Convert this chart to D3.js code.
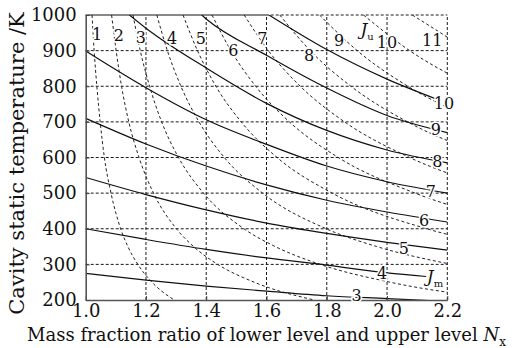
<!DOCTYPE html>
<html>
<head>
<meta charset="utf-8">
<script src="https://cdn.jsdelivr.net/npm/d3@7"></script>
<style>
  body { margin: 0; background: #fff; }
  text { font-family: "DejaVu Serif", serif; fill: #111; }
</style>
</head>
<body>
<svg id="chart" width="519" height="348"></svg>
<script>
const xTicks = [1.0, 1.2, 1.4, 1.6, 1.8, 2.0, 2.2];
const yTicks = [200, 300, 400, 500, 600, 700, 800, 900, 1000];

// Ju (dashed): Nx read at these temperatures
const juTemps = [1000, 900, 800, 700, 600, 500, 400, 350, 300, 250, 200];
const ju1 = [1.021, 1.028, 1.037, 1.048, 1.062, 1.084, 1.116, 1.140, 1.173, 1.220, 1.294];
const ju2 = [1.086, 1.101, 1.119, 1.143, 1.177, 1.225, 1.301, 1.358, 1.438, 1.559, 1.758];
const ju3 = [1.157, 1.181, 1.212, 1.252, 1.308, 1.391, 1.525, 1.629, 1.778, 2.010, 2.417];
const ju4 = [1.236, 1.271, 1.316, 1.376, 1.460, 1.587, 1.798, 1.966, 2.214];
const ju5 = [1.323, 1.371, 1.432, 1.516, 1.635, 1.818, 2.132, 2.388];
const ju6 = [1.419, 1.482, 1.564, 1.676, 1.838, 2.093, 2.541];
const ju7 = [1.526, 1.606, 1.712, 1.859, 2.075, 2.419];
const ju8 = [1.644, 1.745, 1.880, 2.068, 2.350];
const ju9 = [1.776, 1.901, 2.069, 2.308];
const ju10 = [1.922, 2.075, 2.284];
const ju11 = [2.084, 2.271];

// Jm (solid): [Nx, T]
const jm3 = [[1.0, 275], [1.2, 256], [1.4, 239], [1.6, 225], [1.8, 212], [2.0, 204], [2.2, 196]];
const jm4 = [[1.0, 400], [1.2, 370], [1.4, 342], [1.6, 318], [1.8, 298], [2.0, 276], [2.13, 266]];
const jm5 = [[1.0, 544], [1.2, 496], [1.4, 453], [1.6, 416], [1.8, 387], [2.0, 362], [2.2, 340]];
const jm6 = [[1.0, 710], [1.2, 638], [1.4, 576], [1.6, 523], [1.8, 480], [2.0, 447], [2.2, 419]];
const jm7 = [[1.0, 899], [1.2, 796], [1.4, 706], [1.6, 637], [1.8, 576], [2.0, 532], [2.2, 500]];
const jm8 = [[1.145, 1000], [1.2, 963], [1.4, 851], [1.6, 752], [1.8, 676], [2.0, 621], [2.2, 585]];
const jm9 = [[1.385, 1000], [1.4, 989], [1.6, 887], [1.8, 795], [2.0, 718], [2.2, 670]];
const jm10 = [[1.608, 1000], [1.8, 903], [2.0, 820], [2.17, 762]];

const juLabels = [["1", 1.038, 947], ["2", 1.110, 943], ["3", 1.183, 938], ["4", 1.287, 934],
  ["5", 1.382, 934], ["6", 1.490, 901], ["7", 1.586, 934], ["8", 1.741, 887],
  ["9", 1.841, 929], ["10", 2.000, 924], ["11", 2.150, 929]];
const jmLabels = [["10", 2.189, 752], ["9", 2.162, 679], ["8", 2.167, 589], ["7", 2.145, 504],
  ["6", 2.123, 425], ["5", 2.056, 346], ["4", 1.984, 276], ["3", 1.899, 212]];

const svg = d3.select("#chart");
const x = d3.scaleLinear().domain([1.0, 2.2]).range([85.7, 447.3]);
const y = d3.scaleLinear().domain([200, 1000]).range([300, 15]);

svg.append("clipPath").attr("id", "plot")
  .append("rect").attr("x", x(1.0)).attr("y", y(1000))
  .attr("width", x(2.2) - x(1.0)).attr("height", y(200) - y(1000));

// grid
const grid = svg.append("g").attr("stroke", "#1a1a1a").attr("stroke-width", 1).attr("stroke-dasharray", "3,2");
grid.selectAll(".vx").data(xTicks.slice(1)).join("line")
  .attr("x1", d => x(d)).attr("x2", d => x(d)).attr("y1", y(200)).attr("y2", y(1000));
grid.selectAll(".hy").data(yTicks.slice(1)).join("line")
  .attr("x1", x(1.0)).attr("x2", x(2.2)).attr("y1", d => y(d)).attr("y2", d => y(d));
svg.append("line").attr("x1", x(1.0)).attr("x2", x(1.608)).attr("y1", y(1000)).attr("y2", y(1000))
  .attr("stroke", "#888").attr("stroke-width", 2);

const line = d3.line().x(d => x(d[0])).y(d => y(d[1])).curve(d3.curveMonotoneX);
const curves = svg.append("g").attr("clip-path", "url(#plot)").attr("fill", "none");

const juSeries = [ju1, ju2, ju3, ju4, ju5, ju6, ju7, ju8, ju9, ju10, ju11];
curves.selectAll(".ju").data(juSeries).join("path")
  .attr("d", s => line(s.map((v, i) => [v, juTemps[i]])))
  .attr("stroke", "#222").attr("stroke-width", 1).attr("stroke-dasharray", "3,2.5");

const jmSeries = [jm3, jm4, jm5, jm6, jm7, jm8, jm9, jm10];
curves.selectAll(".jm").data(jmSeries).join("path")
  .attr("d", line).attr("stroke", "#111").attr("stroke-width", 1.2);

// axes
const xAxis = svg.append("g").attr("transform", `translate(0,${y(200)})`)
  .call(d3.axisBottom(x).tickValues(xTicks).tickFormat(d3.format(".1f"))
    .tickSizeInner(-4).tickSizeOuter(0).tickPadding(4));
const yAxis = svg.append("g").attr("transform", `translate(${x(1.0)},0)`)
  .call(d3.axisLeft(y).tickValues(yTicks).tickFormat(d3.format("d"))
    .tickSizeInner(-4).tickSizeOuter(0).tickPadding(9));
[xAxis, yAxis].forEach(a => {
  a.select(".domain").attr("stroke", "#555").attr("stroke-width", 1.6);
  a.selectAll(".tick line").attr("stroke", "#444");
  a.selectAll(".tick text").attr("font-family", "DejaVu Serif").attr("font-size", 18).attr("fill", "#111");
});

// curve labels
const lab = svg.append("g").attr("font-size", 16).attr("text-anchor", "middle")
  .attr("stroke", "#fff").attr("stroke-width", 3).attr("paint-order", "stroke");
lab.selectAll(".l").data(juLabels.concat(jmLabels)).join("text")
  .attr("x", d => x(d[1])).attr("y", d => y(d[2])).attr("dy", "0.36em").text(d => d[0]);

function symbol(px, py, sub) {
  const t = lab.append("text").attr("x", px).attr("y", py).attr("dy", "0.36em")
    .attr("text-anchor", "start");
  t.append("tspan").attr("font-style", "italic").attr("font-size", 17).text("J");
  t.append("tspan").attr("font-size", 10).attr("dy", 5).text(sub);
}
symbol(x(1.912), y(960), "u");
symbol(x(2.132), y(268), "m");

// titles
const xt = svg.append("text").attr("x", (x(1.0) + x(2.2)) / 2).attr("y", 341)
  .attr("text-anchor", "middle").attr("font-size", 18);
xt.append("tspan").text("Mass fraction ratio of lower level and upper level ");
xt.append("tspan").attr("font-style", "italic").text("N");
xt.append("tspan").attr("font-size", 12).attr("dy", 5).text("x");

svg.append("text").attr("transform", `translate(24,${(y(200) + y(1000)) / 2 + 6}) rotate(-90)`)
  .attr("text-anchor", "middle").attr("font-size", 21).text("Cavity static temperature /K");
</script>
</body>
</html>
